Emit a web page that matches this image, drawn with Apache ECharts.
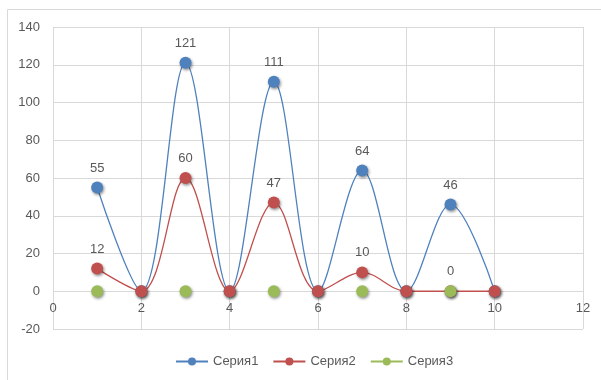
<!DOCTYPE html>
<html>
<head>
<meta charset="utf-8">
<style>
  html, body { margin: 0; padding: 0; background: #fff; }
  #chart { width: 601px; height: 380px; }
</style>
<script src="https://cdn.jsdelivr.net/npm/echarts@6/dist/echarts.min.js"></script>
</head>
<body>
<div id="chart"></div>
<script>
// X positions shared by all three series
const xValues = [1, 2, 3, 4, 5, 6, 7, 8, 9, 10];
// Series values (null = empty cell, no point)
const seriya1 = [55, 0, 121, 0, 111, 0, 64, 0, 46, 0];
const seriya2 = [12, 0, 60, 0, 47, 0, 10, 0, 0, 0];
const seriya3 = [0, null, 0, null, 0, null, 0, null, 0, null];
// Points that carry a value label
const labeledX = [1, 3, 5, 7, 9];
const seriesNames = ['Серия1', 'Серия2', 'Серия3'];
const colors = ['#4F81BD', '#C0504D', '#9BBB59'];

const textColor = '#595959';
const gridColor = '#D9D9D9';
const fontFamily = 'Liberation Sans, Arial, sans-serif';

// Plot area geometry
const gridTop = 27, gridBottom = 51, chartHeight = 380;
const yMin = -20, yMax = 140;
const plotHeight = chartHeight - gridTop - gridBottom;
// Move the x axis up so it crosses the value axis at zero
const xAxisOffset = -plotHeight * (0 - yMin) / (yMax - yMin);

function toData(vals, withLabels) {
  return xValues.map((x, i) => ({
    value: [x, vals[i] === null ? '-' : vals[i]],
    label: { show: withLabels && labeledX.includes(x) }
  }));
}

function makeSeries(name, vals, color, withLabels) {
  return {
    name: name,
    type: 'line',
    smooth: 0.35,
    data: toData(vals, withLabels),
    connectNulls: false,
    symbol: 'circle',
    symbolSize: 12,
    color: color,
    lineStyle: { color: color, width: 1.3 },
    itemStyle: {
      color: color,
      shadowBlur: 3,
      shadowColor: 'rgba(0,0,0,0.45)',
      shadowOffsetX: 1,
      shadowOffsetY: 1.5
    },
    label: {
      position: 'top',
      distance: 7,
      color: textColor,
      fontSize: 13,
      fontFamily: fontFamily
    },
    emphasis: { disabled: true },
    animation: false
  };
}

const chart = echarts.init(document.getElementById('chart'), null, { renderer: 'canvas' });
chart.setOption({
  backgroundColor: '#fff',
  animation: false,
  graphic: [{
    type: 'rect',
    shape: { x: 7.5, y: 9.5, width: 640, height: 400 },
    style: { fill: 'none', stroke: gridColor, lineWidth: 1 },
    silent: true,
    z: -10
  }],
  grid: { left: 53, right: 18, top: gridTop, bottom: gridBottom, containLabel: false },
  xAxis: {
    type: 'value',
    min: 0, max: 12, interval: 2,
    offset: xAxisOffset,
    axisLine: { show: false, onZero: false },
    axisTick: { show: false },
    axisLabel: { color: textColor, fontSize: 13, fontFamily: fontFamily, margin: 11 },
    splitLine: { show: true, lineStyle: { color: gridColor, width: 1 } }
  },
  yAxis: {
    type: 'value',
    min: yMin, max: yMax, interval: 20,
    axisLine: { show: false, onZero: false },
    axisTick: { show: false },
    axisLabel: { color: textColor, fontSize: 13, fontFamily: fontFamily, margin: 13 },
    splitLine: { show: true, lineStyle: { color: gridColor, width: 1 } }
  },
  legend: {
    data: seriesNames,
    top: 350,
    left: 170,
    itemWidth: 32,
    itemHeight: 10,
    itemGap: 14,
    textStyle: { color: textColor, fontSize: 13, fontFamily: fontFamily }
  },
  series: [
    makeSeries(seriesNames[0], seriya1, colors[0], true),
    makeSeries(seriesNames[1], seriya2, colors[1], true),
    makeSeries(seriesNames[2], seriya3, colors[2], false)
  ]
});
</script>
</body>
</html>
